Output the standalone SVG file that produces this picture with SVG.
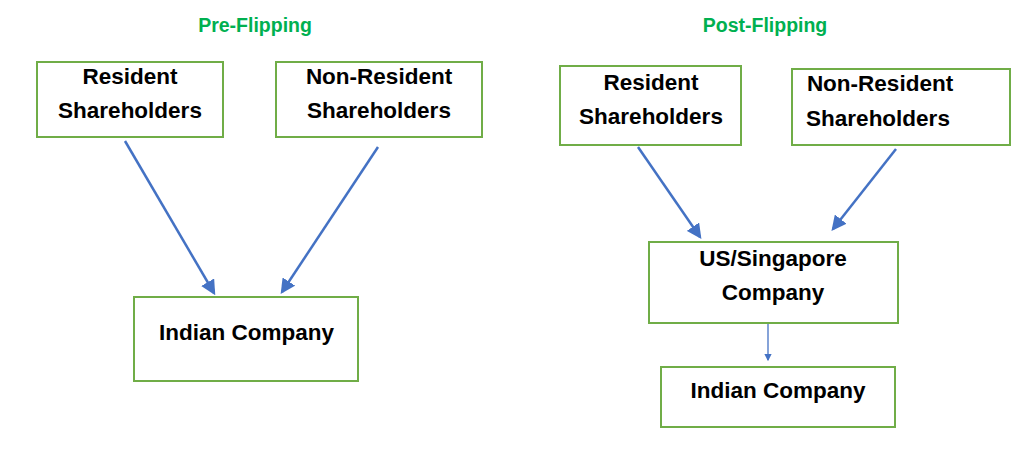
<svg xmlns="http://www.w3.org/2000/svg" width="1024" height="462" viewBox="0 0 1024 462">
<style>
.box{fill:#fff;stroke:#70AD47;stroke-width:2}
.t{font-family:"Liberation Sans",Arial,sans-serif;font-weight:bold;font-size:22.5px;fill:#000;text-anchor:middle}
.title{font-family:"Liberation Sans",Arial,sans-serif;font-weight:bold;font-size:19.5px;fill:#00B050;text-anchor:middle}
.c{stroke:#4472C4;stroke-width:2.5;fill:none}
.c2{stroke:#4472C4;stroke-width:1.3;fill:none}
</style>
<defs>
<marker id="ah" markerWidth="6" markerHeight="6" refX="5" refY="3" orient="auto" markerUnits="strokeWidth"><path d="M0,0 L6,3 L0,6 z" fill="#4472C4"/></marker>
<marker id="ah2" markerWidth="6" markerHeight="8" refX="5" refY="4" orient="auto" markerUnits="strokeWidth"><path d="M0,1 L6,4 L0,7 z" fill="#4472C4"/></marker>
</defs>
<rect width="1024" height="462" fill="#fff"/>
<text class="title" x="255" y="32">Pre-Flipping</text>
<text class="title" x="765" y="32">Post-Flipping</text>
<g id="connectors">
<line class="c" x1="125" y1="141" x2="214" y2="293" marker-end="url(#ah)"/>
<line class="c" x1="378" y1="147" x2="282" y2="292" marker-end="url(#ah)"/>
<line class="c" x1="638" y1="147" x2="700" y2="237" marker-end="url(#ah)"/>
<line class="c" x1="896" y1="149" x2="833" y2="229" marker-end="url(#ah)"/>
<line class="c2" x1="768" y1="324" x2="768" y2="360" marker-end="url(#ah2)"/>
</g>
<g id="pre-resident"><rect class="box" x="37" y="62" width="186" height="75"/><text class="t" x="130" y="84">Resident</text><text class="t" x="130" y="118">Shareholders</text></g>
<g id="pre-nonresident"><rect class="box" x="276" y="62" width="206" height="75"/><text class="t" x="379" y="84">Non-Resident</text><text class="t" x="379" y="118">Shareholders</text></g>
<g id="pre-indian"><rect class="box" x="134" y="297" width="224" height="84"/><text class="t" x="246.5" y="340">Indian Company</text></g>
<g id="post-resident"><rect class="box" x="560" y="66" width="181" height="79"/><text class="t" x="651" y="90">Resident</text><text class="t" x="651" y="124">Shareholders</text></g>
<g id="post-nonresident"><rect class="box" x="792" y="69" width="218" height="76"/><text class="t" x="880" y="91">Non-Resident</text><text class="t" x="878" y="126">Shareholders</text></g>
<g id="post-us"><rect class="box" x="649" y="242" width="249" height="81"/><text class="t" x="773" y="266">US/Singapore</text><text class="t" x="773" y="300">Company</text></g>
<g id="post-indian"><rect class="box" x="661" y="367" width="234" height="60"/><text class="t" x="778" y="398">Indian Company</text></g>
</svg>
